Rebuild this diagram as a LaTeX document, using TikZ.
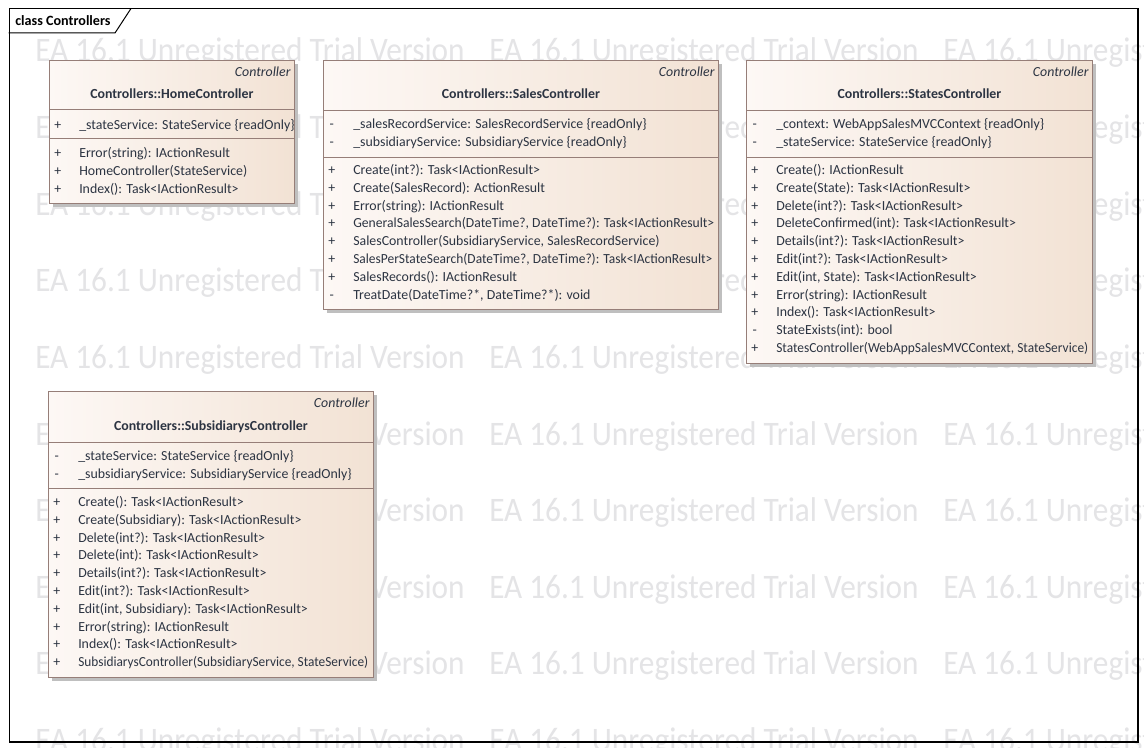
\documentclass[tikz,border=0pt]{standalone}
\usepackage{fontspec}
\setmainfont{Carlito}
\usepackage{xcolor}
\usepackage{graphicx}
\usetikzlibrary{positioning,shadows}

\definecolor{umlline}{RGB}{150,126,120}
\definecolor{umlleft}{RGB}{253,248,245}
\definecolor{umlright}{RGB}{242,226,212}
\definecolor{umltext}{RGB}{44,52,66}
\definecolor{trialgray}{RGB}{228,228,230}

\newcommand{\vis}[1]{\makebox[18.75pt][l]{\makebox[5.2pt][c]{#1}}}
\newcommand{\squeeze}[2]{\resizebox{#1}{\height}{#2}}

\begin{document}
\begin{tikzpicture}[x=0.75pt,y=-0.75pt]
\tikzstyle{classbox} = [rectangle, anchor=north west, inner sep=0pt, draw=umlline, line width=0.6pt, left color=umlleft, right color=umlright, drop shadow={shadow xshift=2.4pt, shadow yshift=-2.4pt, fill=black!25, opacity=1}]
\tikzstyle{stereo} = [anchor=base east, inner sep=0pt, xshift=-3pt, text=umltext, font=\fontsize{10.4}{13.35}\selectfont\itshape]
\tikzstyle{cname} = [anchor=base, inner sep=0pt, text=umltext, font=\fontsize{10.4}{13.35}\selectfont\bfseries]
\tikzstyle{members} = [anchor=base west, inner sep=0pt, text=umltext, font=\fontsize{10.4}{13.35}\selectfont]
\tikzstyle{sepline} = [draw=umlline, line width=0.6pt]
\tikzstyle{wmark} = [anchor=base west, inner sep=0pt, text=trialgray, font=\fontsize{23}{23}\selectfont]

\path[use as bounding box, fill=white] (0,0) rectangle (1144,748);

% trial watermark
\begin{scope}
\clip (0,0) rectangle (1144,748);
\foreach \r in {0,...,9}
  \foreach \c in {0,1,2}
    \node (wm\r\c) [wmark] at (35+454*\c, 62+76.6*\r) {\scalebox{1.02}[1.12]{EA 16.1 Unregistered Trial Version}};
\end{scope}

% diagram frame
\node (frame) [rectangle, draw=black, line width=0.75pt, anchor=north west, inner sep=0pt, minimum width=846.4pt, minimum height=549pt] at (8.5,8.5) {};
\draw[line width=1.5pt] (frame.north east) -- (frame.south east) -- (frame.south west);
\node (title) [anchor=base west, inner sep=0pt, font=\fontsize{10.6}{12}\selectfont\bfseries] at (15,25.5) {class Controllers};
\draw[line width=0.75pt] (frame.west |- 0,33) -- (115,33) -- (131,8.5);

% HomeController
\node (home) [classbox, minimum width=183.75pt, minimum height=107.25pt] at (49,60) {};
\node (home-st) [stereo] at (home.east |- 0,76.5) {Controller};
\node (home-nm) [cname] at (home.north |- 0,98.5) {Controllers::HomeController};
\draw[sepline] (home.west |- 0,109) -- (home.east |- 0,109);
\draw[sepline] (home.west |- 0,138) -- (home.east |- 0,138);
\node (home-at) [members] at (54,129.5) {\begin{tabular}[t]{@{}l@{}}
\vis{+}\_stateService: StateService \{readOnly\}
\end{tabular}};
\node (home-op) [members] at (54,157.5) {\begin{tabular}[t]{@{}l@{}}
\vis{+}Error(string): IActionResult\\
\vis{+}HomeController(StateService)\\
\vis{+}Index(): Task<IActionResult>
\end{tabular}};

% SalesController
\node (sales) [classbox, minimum width=296.25pt, minimum height=186.75pt] at (323,60) {};
\node (sales-st) [stereo] at (sales.east |- 0,76.5) {Controller};
\node (sales-nm) [cname] at (sales.north |- 0,98.5) {Controllers::SalesController};
\draw[sepline] (sales.west |- 0,110) -- (sales.east |- 0,110);
\draw[sepline] (sales.west |- 0,157) -- (sales.east |- 0,157);
\node (sales-at) [members] at (328,128.5) {\begin{tabular}[t]{@{}l@{}}
\vis{-}\_salesRecordService: SalesRecordService \{readOnly\}\\
\vis{-}\_subsidiaryService: SubsidiaryService \{readOnly\}
\end{tabular}};
\node (sales-op) [members] at (328,174.5) {\begin{tabular}[t]{@{}l@{}}
\vis{+}Create(int?): Task<IActionResult>\\
\vis{+}Create(SalesRecord): ActionResult\\
\vis{+}Error(string): IActionResult\\
\vis{+}\squeeze{270.75pt}{GeneralSalesSearch(DateTime?, DateTime?): Task<IActionResult>}\\
\vis{+}SalesController(SubsidiaryService, SalesRecordService)\\
\vis{+}\squeeze{269.25pt}{SalesPerStateSearch(DateTime?, DateTime?): Task<IActionResult>}\\
\vis{+}SalesRecords(): IActionResult\\
\vis{-}TreatDate(DateTime?*, DateTime?*): void
\end{tabular}};

% StatesController
\node (states) [classbox, minimum width=259.5pt, minimum height=227.25pt] at (746,60) {};
\node (states-st) [stereo] at (states.east |- 0,76.5) {Controller};
\node (states-nm) [cname] at (states.north |- 0,98.5) {Controllers::StatesController};
\draw[sepline] (states.west |- 0,110) -- (states.east |- 0,110);
\draw[sepline] (states.west |- 0,157) -- (states.east |- 0,157);
\node (states-at) [members] at (751,128.5) {\begin{tabular}[t]{@{}l@{}}
\vis{-}\_context: WebAppSalesMVCContext \{readOnly\}\\
\vis{-}\_stateService: StateService \{readOnly\}
\end{tabular}};
\node (states-op) [members] at (751,174.5) {\begin{tabular}[t]{@{}l@{}}
\vis{+}Create(): IActionResult\\
\vis{+}Create(State): Task<IActionResult>\\
\vis{+}Delete(int?): Task<IActionResult>\\
\vis{+}DeleteConfirmed(int): Task<IActionResult>\\
\vis{+}Details(int?): Task<IActionResult>\\
\vis{+}Edit(int?): Task<IActionResult>\\
\vis{+}Edit(int, State): Task<IActionResult>\\
\vis{+}Error(string): IActionResult\\
\vis{+}Index(): Task<IActionResult>\\
\vis{-}StateExists(int): bool\\
\vis{+}\squeeze{234pt}{StatesController(WebAppSalesMVCContext, StateService)}
\end{tabular}};

% SubsidiarysController
\node (subs) [classbox, minimum width=243.75pt, minimum height=214.5pt] at (48,391) {};
\node (subs-st) [stereo] at (subs.east |- 0,407.5) {Controller};
\node (subs-nm) [cname] at (subs.north |- 0,430.5) {Controllers::SubsidiarysController};
\draw[sepline] (subs.west |- 0,442) -- (subs.east |- 0,442);
\draw[sepline] (subs.west |- 0,488) -- (subs.east |- 0,488);
\node (subs-at) [members] at (53,460.5) {\begin{tabular}[t]{@{}l@{}}
\vis{-}\_stateService: StateService \{readOnly\}\\
\vis{-}\_subsidiaryService: SubsidiaryService \{readOnly\}
\end{tabular}};
\node (subs-op) [members] at (53,506.5) {\begin{tabular}[t]{@{}l@{}}
\vis{+}Create(): Task<IActionResult>\\
\vis{+}Create(Subsidiary): Task<IActionResult>\\
\vis{+}Delete(int?): Task<IActionResult>\\
\vis{+}Delete(int): Task<IActionResult>\\
\vis{+}Details(int?): Task<IActionResult>\\
\vis{+}Edit(int?): Task<IActionResult>\\
\vis{+}Edit(int, Subsidiary): Task<IActionResult>\\
\vis{+}Error(string): IActionResult\\
\vis{+}Index(): Task<IActionResult>\\
\vis{+}\squeeze{217.5pt}{SubsidiarysController(SubsidiaryService, StateService)}
\end{tabular}};
\end{tikzpicture}
\end{document}
